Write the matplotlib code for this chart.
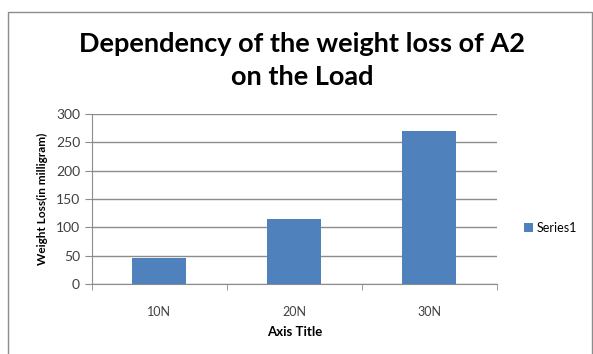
import numpy as np
import matplotlib.pyplot as plt
from matplotlib.patches import Rectangle

loads = ['10N', '20N', '30N']
weight_loss = [45, 115, 270]
y_ticks = [0, 50, 100, 150, 200, 250, 300]

plt.rcParams['font.family'] = ['Lato', 'DejaVu Sans']

fig = plt.figure(figsize=(5.93, 3.54), dpi=100)
# outer chart border
fig.patches.append(Rectangle((0.013, -0.01), 0.985, 0.976, transform=fig.transFigure,
                             fill=False, edgecolor='#8c8c8c', linewidth=1))
ax = fig.add_axes([0.155, 0.198, 0.683, 0.48])

x = np.arange(len(loads))
bars = ax.bar(x, weight_loss, width=0.4, color='#4F81BD', label='Series1', zorder=3)

ax.set_xlim(-0.5, 2.5)
ax.set_ylim(0, 300)
ax.set_yticks(y_ticks)
ax.yaxis.grid(True, color='#8c8c8c', linewidth=1)
ax.set_axisbelow(True)
for s in ['top', 'right']:
    ax.spines[s].set_visible(False)
ax.spines['left'].set_color('#8c8c8c')
ax.spines['bottom'].set_color('#8c8c8c')
ax.set_xticks(x)
ax.set_xticklabels(loads)
ax.set_xticks([-0.5, 0.5, 1.5, 2.5], minor=True)
ax.tick_params(axis='x', which='major', length=0, pad=16, labelsize=9)
ax.tick_params(axis='x', which='minor', length=4, color='#8c8c8c', direction='out')
ax.tick_params(axis='y', length=5, color='#8c8c8c', labelsize=10)
for t in ax.get_xticklabels() + ax.get_yticklabels():
    t.set_color('#404040')

ax.set_ylabel('Weight Loss(in milligram)', fontsize=8.5, fontweight='bold', labelpad=6)
ax.set_xlabel('Axis Title', fontsize=9.5, fontweight='bold', labelpad=6)

fig.text(0.51, 0.853, 'Dependency of the weight loss of A2',
         ha='center', va='baseline', fontsize=19.5, fontweight='bold')
fig.text(0.51, 0.760, 'on the Load',
         ha='center', va='baseline', fontsize=19.5, fontweight='bold')

fig.legend(handles=[bars], labels=['Series1'], loc='center left',
           bbox_to_anchor=(0.865, 0.356), frameon=False, fontsize=9,
           handlelength=0.7, handleheight=0.7, handletextpad=0.3)

fig.savefig('out.png', dpi=100)
